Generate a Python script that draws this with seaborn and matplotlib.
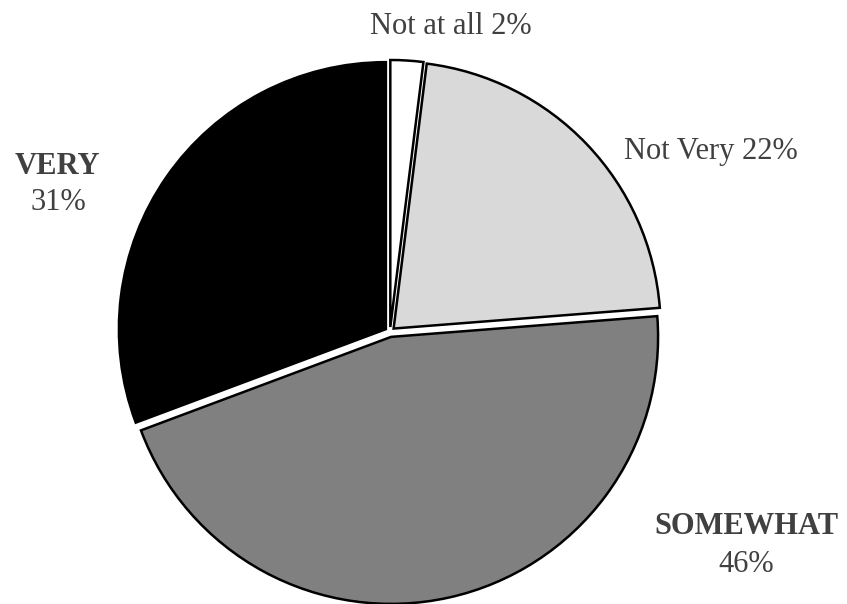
import matplotlib
matplotlib.use("Agg")
import matplotlib.pyplot as plt
import seaborn as sns

categories = ["Not at all", "Not Very", "SOMEWHAT", "VERY"]
values = [2, 22, 46, 31]
colors = ["#ffffff", "#d9d9d9", "#808080", "#000000"]

sns.set_theme(style="white")
plt.rcParams["font.family"] = ["Liberation Serif", "DejaVu Serif"]

fig = plt.figure(figsize=(8.47, 6.04), dpi=100)
ax = fig.add_axes([0, 0, 1, 1])

# explode is in data units (pixels here)
ax.pie(values, colors=colors, startangle=90, counterclock=False,
       center=(390, 272), radius=267, explode=[5, 5, 5, 5],
       wedgeprops=dict(edgecolor="black", linewidth=1.8))

ax.set_xlim(0, 847)
ax.set_ylim(0, 604)
ax.set_aspect("equal")
ax.axis("off")

tc = "#404040"
fs = 22
ax.text(451, 604 - 27, f"{categories[0]} {values[0]}%", ha="center", va="center",
        fontsize=fs, color=tc)
ax.text(711, 604 - 152, f"{categories[1]} {values[1]}%", ha="center", va="center",
        fontsize=fs, color=tc)
ax.text(746, 604 - 526, categories[2], ha="center", va="center",
        fontsize=fs, color=tc, fontweight="bold")
ax.text(746, 604 - 564, f"{values[2]}%", ha="center", va="center",
        fontsize=fs, color=tc)
ax.text(57, 604 - 167, categories[3], ha="center", va="center",
        fontsize=fs, color=tc, fontweight="bold")
ax.text(58, 604 - 203, f"{values[3]}%", ha="center", va="center",
        fontsize=fs, color=tc)

fig.savefig("out.png", dpi=100)
